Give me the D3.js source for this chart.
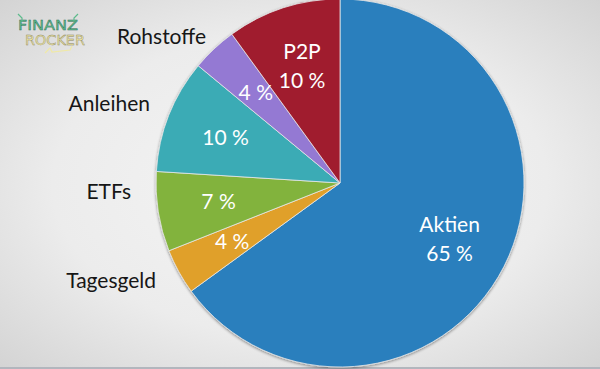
<!DOCTYPE html>
<html><head><meta charset="utf-8">
<script src="https://cdn.jsdelivr.net/npm/d3@7"></script>
<style>html,body{margin:0;padding:0;overflow:hidden;background:#e6e6e6}</style>
</head><body>
<svg id="c" width="600" height="369"></svg>
<script>
const categories = ["Aktien","Tagesgeld","ETFs","Anleihen","Rohstoffe","P2P"];
const values = [65, 4, 7, 10, 4, 10];
const colors = ["#2a7fbd","#e0a02b","#82b33d","#3aabb5","#9479d3","#a01a2e"];
// which categories carry their name inside the slice
const insideName = ["Aktien","P2P"];
// outside label anchors (right edge x, baseline y)
const outsideLabelPos = {Tagesgeld:[156,288], ETFs:[131,199], Anleihen:[150,111], Rohstoffe:[206,44]};

const W=600,H=369, cx=340, cy=183, R=184;
const svg=d3.select("#c");
const defs=svg.append("defs");
const bg=defs.append("radialGradient").attr("id","bg").attr("cx","50%").attr("cy","50%").attr("r","75%");
bg.append("stop").attr("offset","0%").attr("stop-color","#f5f5f5");
bg.append("stop").attr("offset","55%").attr("stop-color","#ececec");
bg.append("stop").attr("offset","100%").attr("stop-color","#d0d0d0");
svg.append("rect").attr("width",W).attr("height",H).attr("fill","url(#bg)");
svg.append("rect").attr("x",0).attr("y",H-2).attr("width",W).attr("height",2).attr("fill","#b2b6bd");

const f=defs.append("filter").attr("id","sh").attr("x","-20%").attr("y","-20%").attr("width","140%").attr("height","140%");
f.append("feGaussianBlur").attr("in","SourceAlpha").attr("stdDeviation",1.5);
f.append("feOffset").attr("dx",0).attr("dy",1).attr("result","b");
f.append("feComponentTransfer").append("feFuncA").attr("type","linear").attr("slope",0.45);
const m=f.append("feMerge"); m.append("feMergeNode"); m.append("feMergeNode").attr("in","SourceGraphic");

const data=categories.map((c,i)=>({cat:c,val:values[i],col:colors[i]}));
const pie=d3.pie().value(d=>d.val).sort(null);
const arcs=pie(data);
const arc=d3.arc().innerRadius(0).outerRadius(R);
const labelArc=d3.arc().innerRadius(246).outerRadius(0); // centroid at radius 123

const g=svg.append("g").attr("transform",`translate(${cx},${cy})`);
g.append("g").attr("filter","url(#sh)").selectAll("path").data(arcs).join("path")
 .attr("d",arc).attr("fill",d=>d.data.col).attr("stroke","#e8e8e8").attr("stroke-width",0.8);

const font="Lato, 'Open Sans', sans-serif";
arcs.forEach(a=>{
  const [x,y]=labelArc.centroid(a);
  const t=g.append("text").attr("font-family",font).attr("font-size",21).attr("fill","#fff").attr("text-anchor","middle");
  if(insideName.includes(a.data.cat)){
    t.append("tspan").attr("x",x).attr("y",y-7).text(a.data.cat);
    t.append("tspan").attr("x",x).attr("y",y+22).text(a.data.val+" %");
  } else {
    t.attr("x",x).attr("y",y+7).text(a.data.val+" %");
    const p=outsideLabelPos[a.data.cat];
    svg.append("text").attr("x",p[0]).attr("y",p[1]).attr("text-anchor","end")
      .attr("font-family",font).attr("font-size",21).attr("fill","#161616").text(a.data.cat);
  }
});

// logo
const lg=svg.append("g");
lg.append("text").attr("x",18).attr("y",30).attr("textLength",60).attr("lengthAdjust","spacingAndGlyphs").attr("font-family","'DejaVu Sans', sans-serif")
 .attr("font-size",14).attr("fill","#5dbb8c")
 .attr("stroke","#2e6e55").attr("stroke-width",0.4).text("FINANZ");
lg.append("text").attr("x",25).attr("y",45).attr("textLength",60).attr("lengthAdjust","spacingAndGlyphs").attr("font-family","'DejaVu Sans', sans-serif")
 .attr("font-size",14).attr("fill","#f0e9a6")
 .attr("stroke","#8a8460").attr("stroke-width",0.4).text("ROCKER");
lg.append("path").attr("d","M18,14 L22,18 L22,22 M78,14 L74,18 L74,22").attr("fill","none").attr("stroke","#5dbb8c").attr("stroke-width",1.2);
lg.append("path").attr("d","M45,53 L50,48 L52,52 L70,50 L72,46").attr("fill","none").attr("stroke","#f0e9a6").attr("stroke-width",1.2);
</script>
</body></html>
